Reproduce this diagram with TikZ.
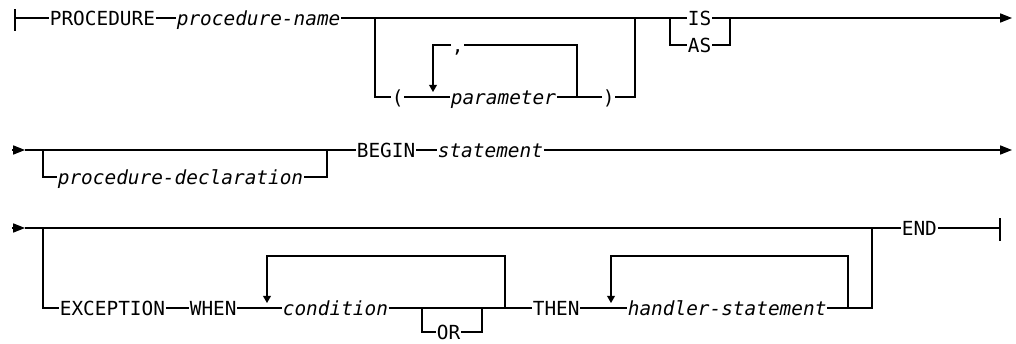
\documentclass[tikz,border=0pt]{standalone}
\usepackage{fontspec}
\setmonofont{DejaVu Sans Mono}
\usetikzlibrary{arrows.meta}
\tikzset{
  rail/.style={line width=0.85pt},
  word/.style={anchor=west, inner xsep=0.4pt, inner ysep=0pt, text height=10pt, text depth=0pt,
    font=\ttfamily\fontsize{13.8pt}{16pt}\selectfont},
  var/.style={word, font=\ttfamily\itshape\fontsize{13.8pt}{16pt}\selectfont},
  rowtip/.style={-{Triangle[length=8.5pt,width=6.5pt]}},
  looptip/.style={-{Triangle[length=5pt,width=5.5pt]}}
}

\begin{document}
\begin{tikzpicture}[x=0.025cm, y=-0.025cm]
    \useasboundingbox (0, 0) rectangle (1016, 343);

    % Row 1
    % words
    \node [word] (proc) at (49, 18) {PROCEDURE};
    \node [var] (pname) at (176, 18) {procedure-name};
    \node [word] (lpar) at (391, 97) {(};
    \node [var] (param) at (450, 97) {parameter};
    \node [word] (rpar) at (602, 97) {)};
    \node [word] (comma) at (451, 45) {,};
    \node [word] (is) at (687, 18) {IS};
    \node [word] (as) at (687, 45) {AS};
    % junctions
    \coordinate (s1) at (15, 18);
    \coordinate (j1) at (375, 18);
    \coordinate (j2) at (635, 18);
    \coordinate (j3) at (670, 18);
    \coordinate (j4) at (730, 18);
    \coordinate (p1) at (577, 97);
    \coordinate (t0) at (433, 92);
    \coordinate (e1) at (1012, 18);
    % start bar
    \draw [rail] (15, 9) -- (15, 31);
    % main line
    \draw [rail] (s1) -- (proc.west);
    \draw [rail] (proc.east) -- (pname.west);
    \draw [rail] (pname.east) -- (is.west);
    % optional parameter list
    \draw [rail] (j1) |- (lpar.west);
    \draw [rail] (lpar.east) -- (param.west);
    \draw [rail] (param.east) -- (rpar.west);
    \draw [rail] (rpar.east) -| (j2);
    % repeat loop with comma
    \draw [rail] (p1) |- (comma.east);
    \draw [rail,looptip] (comma.west) -| (t0);
    % IS or AS
    \draw [rail] (j3) |- (as.west);
    \draw [rail] (as.east) -| (j4);
    \draw [rail,rowtip] (is.east) -- (e1);

    % Row 2
    \node [var] (pdecl) at (57, 177) {procedure-declaration};
    \node [word] (begin) at (356, 150) {BEGIN};
    \node [var] (stmt) at (437, 150) {statement};
    \coordinate (b2) at (12, 150);
    \coordinate (s2) at (25, 150);
    \coordinate (j5) at (43, 150);
    \coordinate (j6) at (327, 150);
    \coordinate (e2) at (1012, 150);
    % start arrow
    \draw [rail,rowtip] (b2) -- (s2);
    \draw [rail] (s2) -- (begin.west);
    % optional declaration
    \draw [rail] (j5) |- (pdecl.west);
    \draw [rail] (pdecl.east) -| (j6);
    \draw [rail] (begin.east) -- (stmt.west);
    \draw [rail,rowtip] (stmt.east) -- (e2);

    % Row 3
    \node [word] (excp) at (59, 308) {EXCEPTION};
    \node [word] (when) at (189, 308) {WHEN};
    \node [var] (cond) at (282, 308) {condition};
    \node [word] (or) at (436, 332) {OR};
    \node [word] (then) at (532, 308) {THEN};
    \node [var] (handler) at (627, 308) {handler-statement};
    \node [word] (endkw) at (901, 228) {END};
    \coordinate (b3) at (12, 228);
    \coordinate (s3) at (25, 228);
    \coordinate (j7) at (43, 228);
    \coordinate (j8) at (872, 228);
    \coordinate (o1) at (422, 308);
    \coordinate (o2) at (482, 308);
    \coordinate (r1) at (505, 308);
    \coordinate (r2) at (848, 308);
    \coordinate (t1) at (267, 303);
    \coordinate (t2) at (611, 303);
    \coordinate (e3) at (1000, 228);
    % start arrow
    \draw [rail,rowtip] (b3) -- (s3);
    \draw [rail] (s3) -- (endkw.west);
    % optional exception part
    \draw [rail] (j7) |- (excp.west);
    \draw [rail] (excp.east) -- (when.west);
    \draw [rail] (when.east) -- (cond.west);
    \draw [rail] (cond.east) -- (then.west);
    % optional OR
    \draw [rail] (o1) |- (or.west);
    \draw [rail] (or.east) -| (o2);
    % condition loop
    \draw [rail,looptip] (r1) -- ++(0, -52) -| (t1);
    \draw [rail] (then.east) -- (handler.west);
    \draw [rail] (handler.east) -| (j8);
    % handler loop
    \draw [rail,looptip] (r2) -- ++(0, -52) -| (t2);
    % end bar
    \draw [rail] (endkw.east) -- (e3);
    \draw [rail] (1000, 218) -- (1000, 241);
\end{tikzpicture}
\end{document}
